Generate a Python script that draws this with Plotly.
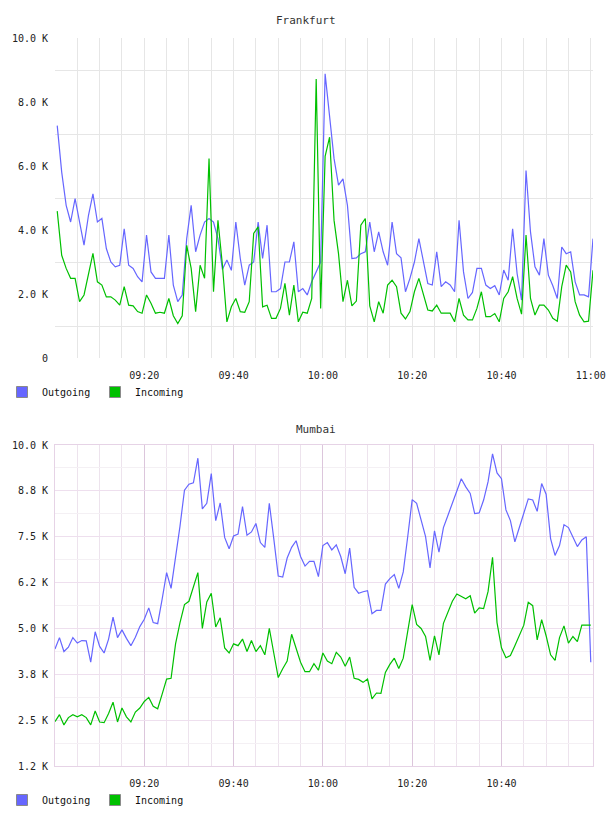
import pandas as pd
import plotly.graph_objects as go

# ---------------- data (values in thousands) ----------------
frankfurt_times = pd.date_range("2024-01-01 09:00:30", periods=121, freq="1min")
frankfurt_outgoing = [
    7.26, 5.81, 4.77, 4.25, 4.98, 4.25, 3.53, 4.46, 5.13, 4.25,
    4.36, 3.42, 3.00, 2.85, 2.90, 4.04, 2.90, 2.80, 2.54, 2.38,
    3.84, 2.69, 2.49, 2.49, 2.49, 3.84, 2.28, 1.76, 1.97, 3.73,
    4.77, 3.32, 3.84, 4.25, 4.36, 4.25, 3.73, 2.77, 3.06, 2.74,
    4.25, 3.11, 2.28, 2.90, 3.00, 4.25, 3.11, 4.15, 2.07, 2.07,
    2.17, 3.00, 3.00, 3.63, 2.07, 2.17, 1.97, 2.38, 2.69, 3.00,
    8.88, 7.58, 6.23, 5.40, 5.60, 4.77, 3.11, 3.13, 3.26, 3.32,
    4.25, 3.32, 3.94, 3.32, 2.90, 4.25, 3.26, 3.13, 2.07, 2.49,
    3.00, 3.73, 3.00, 2.33, 2.28, 3.32, 2.23, 2.38, 2.28, 2.07,
    4.30, 2.69, 1.86, 2.05, 2.80, 2.80, 2.28, 2.17, 2.26, 1.97,
    2.75, 2.43, 4.04, 2.64, 1.81, 5.86, 3.94, 2.85, 2.59, 3.73,
    2.59, 2.26, 1.86, 3.47, 3.26, 3.32, 2.38, 1.97, 1.97, 1.91, 3.73,
]
frankfurt_incoming = [
    4.59, 3.21, 2.80, 2.49, 2.49, 1.76, 1.97, 2.59, 3.27, 2.38,
    2.28, 1.91, 1.91, 1.81, 1.65, 2.23, 1.65, 1.63, 1.45, 1.40,
    1.97, 1.71, 1.40, 1.43, 1.40, 1.86, 1.32, 1.08, 1.32, 3.52,
    2.80, 1.45, 2.90, 2.49, 6.23, 2.07, 4.30, 2.90, 1.13, 1.60,
    1.86, 1.45, 1.43, 1.76, 3.89, 4.10, 1.60, 1.65, 1.24, 1.24,
    1.55, 2.33, 1.34, 2.28, 1.13, 1.43, 1.40, 1.86, 8.72, 1.55,
    6.30, 6.90, 4.30, 3.26, 1.76, 2.43, 1.63, 1.78, 4.15, 4.36,
    1.63, 1.13, 1.76, 1.40, 2.28, 2.43, 2.23, 1.40, 1.22, 1.45,
    2.07, 2.49, 1.97, 1.50, 1.47, 1.65, 1.40, 1.40, 1.40, 1.13,
    1.86, 1.34, 1.19, 1.19, 1.55, 2.07, 1.29, 1.29, 1.39, 1.13,
    1.86, 2.07, 2.54, 1.86, 1.37, 3.84, 1.86, 1.34, 1.65, 1.65,
    1.50, 1.24, 1.15, 2.23, 2.90, 2.69, 1.76, 1.34, 1.13, 1.15, 2.74,
]

mumbai_times = pd.date_range("2024-01-01 09:00:00", periods=121, freq="1min")
mumbai_outgoing = [
    4.44, 4.75, 4.37, 4.49, 4.75, 4.60, 4.67, 4.66, 4.08, 4.91,
    4.51, 4.33, 4.71, 5.31, 4.75, 4.96, 4.73, 4.53, 4.76, 5.05,
    5.25, 5.56, 5.16, 5.13, 5.80, 6.52, 6.09, 6.90, 7.79, 8.77,
    8.93, 8.97, 9.64, 8.26, 8.41, 9.22, 7.94, 8.42, 7.48, 7.17,
    7.52, 7.57, 8.32, 7.54, 7.63, 7.86, 7.34, 7.21, 8.41, 7.45,
    6.43, 6.40, 6.92, 7.21, 7.39, 6.96, 6.70, 6.83, 6.83, 6.41,
    7.26, 7.34, 7.14, 7.28, 6.96, 6.49, 7.19, 6.12, 5.96, 6.00,
    6.03, 5.40, 5.49, 5.49, 6.21, 6.36, 6.47, 6.09, 6.54, 7.50,
    8.51, 8.41, 7.92, 7.50, 6.65, 7.66, 7.08, 7.75, 8.08, 8.41,
    8.77, 9.08, 8.86, 8.68, 8.13, 8.15, 8.50, 9.00, 9.76, 9.24,
    9.08, 8.23, 7.94, 7.36, 7.75, 8.15, 8.53, 8.50, 8.19, 8.95,
    8.66, 7.45, 6.99, 7.26, 7.83, 7.75, 7.50, 7.23, 7.41, 7.50, 4.08,
]
mumbai_incoming = [
    2.46, 2.65, 2.37, 2.57, 2.65, 2.59, 2.65, 2.57, 2.37, 2.75,
    2.45, 2.43, 2.68, 2.99, 2.45, 2.83, 2.59, 2.45, 2.72, 2.83,
    3.01, 3.12, 2.88, 2.81, 3.21, 3.62, 3.64, 4.58, 5.16, 5.65,
    5.74, 6.12, 6.52, 5.00, 5.72, 5.96, 5.04, 5.29, 4.47, 4.33,
    4.58, 4.53, 4.71, 4.37, 4.67, 4.37, 4.53, 4.28, 5.00, 4.33,
    3.66, 3.90, 4.11, 4.84, 4.49, 4.08, 3.82, 3.82, 4.04, 3.86,
    4.33, 4.11, 4.04, 4.35, 4.22, 3.97, 4.22, 3.64, 3.61, 3.53,
    3.62, 3.08, 3.24, 3.23, 3.80, 4.02, 4.19, 3.91, 4.19, 4.96,
    5.65, 5.11, 5.00, 4.78, 4.13, 4.80, 4.28, 5.14, 5.42, 5.74,
    5.94, 5.87, 5.81, 5.89, 5.42, 5.56, 5.54, 6.01, 6.94, 5.16,
    4.47, 4.20, 4.26, 4.53, 4.82, 5.09, 5.71, 5.62, 4.69, 5.24,
    4.80, 4.28, 4.13, 4.75, 5.07, 4.60, 4.78, 4.64, 5.09, 5.09, 5.09,
]

frankfurt_yticks = [0, 2, 4, 6, 8, 10]
frankfurt_ytext = ["0", "2.0 K", "4.0 K", "6.0 K", "8.0 K", "10.0 K"]
frankfurt_ygrid = [1, 3, 5, 7, 9]
mumbai_yticks = [1.25, 2.5, 3.75, 5.0, 6.25, 7.5, 8.75, 10.0]
mumbai_ytext = ["1.2 K", "2.5 K", "3.8 K", "5.0 K", "6.2 K", "7.5 K", "8.8 K", "10.0 K"]
mumbai_ygrid = [1.875, 3.125, 4.375, 5.625, 6.875, 8.125, 9.375]

frankfurt_xticks = ["2024-01-01 09:20", "2024-01-01 09:40", "2024-01-01 10:00",
                    "2024-01-01 10:20", "2024-01-01 10:40", "2024-01-01 11:00"]
mumbai_xticks = frankfurt_xticks[:-1]
five_min = [t.strftime("%Y-%m-%d %H:%M") for t in
            pd.date_range("2024-01-01 09:05", "2024-01-01 10:55", freq="5min")
            if t.minute % 20 != 0]
x_range = ["2024-01-01 09:00:00", "2024-01-01 11:00:30"]

# ---------------- style ----------------
OUT_COLOR = "#6666ff"
IN_COLOR = "#00c000"
FONT = "DejaVu Sans Mono"

fig = go.Figure()

def add_pair(times, out_vals, in_vals, xa, ya, legend):
    fig.add_trace(go.Scatter(x=times, y=out_vals, mode="lines", name="Outgoing",
                             line=dict(color=OUT_COLOR, width=1.2), showlegend=False,
                             xaxis=xa, yaxis=ya, hoverinfo="x+y"))
    fig.add_trace(go.Scatter(x=times, y=in_vals, mode="lines", name="Incoming",
                             line=dict(color=IN_COLOR, width=1.2), showlegend=False,
                             xaxis=xa, yaxis=ya, hoverinfo="x+y"))
    for name, col in (("Outgoing", OUT_COLOR), ("Incoming", IN_COLOR)):
        fig.add_trace(go.Scatter(x=[None], y=[None], mode="markers", name=name,
                                 marker=dict(symbol="square", size=11, color=col,
                                             line=dict(color="#8a8a8a", width=1)),
                                 xaxis=xa, yaxis=ya, legend=legend, showlegend=True))

add_pair(frankfurt_times, frankfurt_outgoing, frankfurt_incoming, "x", "y", "legend")
add_pair(mumbai_times, mumbai_outgoing, mumbai_incoming, "x2", "y2", "legend2")

H_PLOT = 728.0
W_PLOT = 538.0
top_dom = [(766 - 358) / H_PLOT, 1.0]
bot_dom = [0.0, (766 - 445) / H_PLOT]
tickfont = dict(family=FONT, size=10, color="#222222")

legend_common = dict(orientation="h", x=(2 - 55) / W_PLOT, xanchor="left",
                     yanchor="middle",
                     font=dict(family=FONT, size=10, color="#111111"),
                     entrywidth=48, entrywidthmode="pixels",
                     bgcolor="rgba(0,0,0,0)",
                     itemclick=False, itemdoubleclick=False)

fig.update_layout(
    width=608, height=816,
    margin=dict(l=55, r=15, t=38, b=50, autoexpand=False),
    paper_bgcolor="white", plot_bgcolor="white",
    font=dict(family=FONT, size=10, color="#222222"),
    xaxis=dict(domain=[0, 1], anchor="y", type="date", range=x_range,
               tickmode="array", tickvals=frankfurt_xticks, tickformat="%H:%M",
               showgrid=True, gridcolor="#e6e6e6", gridwidth=1,
               minor=dict(tickmode="array", tickvals=five_min, showgrid=True,
                          gridcolor="#e6e6e6", gridwidth=1),
               ticks="outside", ticklen=8, tickcolor="rgba(0,0,0,0)",
               showline=False, zeroline=False, tickfont=tickfont, automargin=False),
    yaxis=dict(domain=top_dom, anchor="x", range=[0, 10],
               tickmode="array", tickvals=frankfurt_yticks, ticktext=frankfurt_ytext,
               showgrid=False,
               minor=dict(tickmode="array", tickvals=frankfurt_ygrid, showgrid=True,
                          gridcolor="#e6e6e6", gridwidth=1),
               ticks="outside", ticklen=4, tickcolor="rgba(0,0,0,0)",
               showline=False, zeroline=False, tickfont=tickfont, automargin=False),
    xaxis2=dict(domain=[0, 1], anchor="y2", type="date", range=x_range,
                tickmode="array", tickvals=mumbai_xticks, tickformat="%H:%M",
                showgrid=True, gridcolor="#dcc6dc", gridwidth=1,
                minor=dict(tickmode="array", tickvals=five_min, showgrid=True,
                           gridcolor="#ede3ed", gridwidth=1),
                ticks="outside", ticklen=8, tickcolor="rgba(0,0,0,0)",
                showline=True, linecolor="#e6d3e6", linewidth=1, mirror=True,
                zeroline=False, tickfont=tickfont, automargin=False),
    yaxis2=dict(domain=bot_dom, anchor="x2", range=[1.25, 10],
                tickmode="array", tickvals=mumbai_yticks, ticktext=mumbai_ytext,
                showgrid=True, gridcolor="#eedfee", gridwidth=1,
                minor=dict(tickmode="array", tickvals=mumbai_ygrid, showgrid=True,
                           gridcolor="#f4f0f4", gridwidth=1),
                ticks="outside", ticklen=4, tickcolor="rgba(0,0,0,0)",
                showline=True, linecolor="#e6d3e6", linewidth=1, mirror=True,
                zeroline=False, tickfont=tickfont, automargin=False),
    legend=dict(legend_common, y=(766 - 392) / H_PLOT),
    legend2=dict(legend_common, y=(766 - 800) / H_PLOT),
    annotations=[
        dict(text="Frankfurt", xref="paper", yref="paper",
             x=(306 - 55) / W_PLOT, y=(766 - 20) / H_PLOT, showarrow=False,
             xanchor="center", yanchor="middle",
             font=dict(family=FONT, size=11, color="#333333")),
        dict(text="Mumbai", xref="paper", yref="paper",
             x=(316 - 55) / W_PLOT, y=(766 - 429) / H_PLOT, showarrow=False,
             xanchor="center", yanchor="middle",
             font=dict(family=FONT, size=11, color="#333333")),
    ],
    showlegend=True,
)

fig.write_html("out.html")
